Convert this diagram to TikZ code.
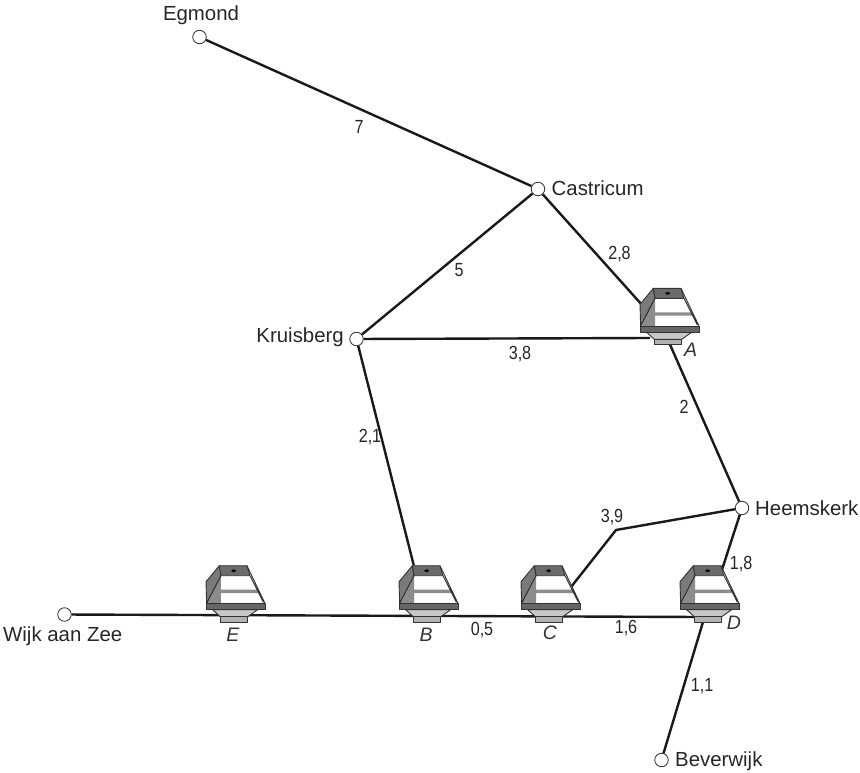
\documentclass[tikz,border=0pt]{standalone}
\usepackage{fontspec}
\setmainfont{Liberation Sans}
\tikzset{
  x=1pt,y=-1pt,
  town/.style={circle,draw=black!80,fill=white,line width=0.8pt,minimum size=13.5pt,inner sep=0pt},
  edge/.style={draw=black!90,line width=2.4pt,line join=miter},
  lab/.style={inner sep=0pt,font=\fontsize{20.4}{24}\selectfont,text=black!85},
  num/.style={inner sep=0pt,font=\fontsize{19}{22}\selectfont,text=black!85,xscale=.85},
  ilet/.style={inner sep=0pt,font=\fontsize{19.5}{22}\selectfont\itshape,text=black!80},
  icon/.pic={
    \begin{scope}[x=0.3333pt,y=-0.3333pt,line width=.9pt,draw=black!80,line join=round]
      \fill[white] (100,55)--(183,55)--(237,168)--(62,168)--(60,103)--cycle;
      \filldraw[fill=black!52] (100,55)--(60,103)--(62,168)--(105,85)--cycle;
      \fill[black!45] (105,85)--(105,168)--(65,168)--cycle;
      \fill[black!45] (105,127)--(217,127)--(222,137)--(105,137)--cycle;
      \filldraw[fill=black!58] (100,55)--(183,55)--(192,85)--(105,85)--cycle;
      \fill[black] (143,70) ellipse (7 and 4);
      \draw (183,55)--(237,168) (192,85)--(232,165) (62,168)--(105,85);
      \filldraw[fill=black!22] (80,187)--(215,187)--(185,208)--(103,208)--cycle;
      \filldraw[fill=black!30] (103,208)--(185,208)--(185,224)--(103,224)--cycle;
      \filldraw[fill=black!60] (62,168)--(237,168)--(237,187)--(62,187)--cycle;
    \end{scope}
  }
}
\begin{document}
\begin{tikzpicture}
\useasboundingbox (0,0) rectangle (860,773);
% towns
\node[town] (egmond) at (199.5,37) {};
\node[town] (castricum) at (538,189) {};
\node[town] (kruisberg) at (356.5,339) {};
\node[town] (heemskerk) at (742,508) {};
\node[town] (wijk) at (64.5,614.5) {};
\node[town] (beverwijk) at (661.5,760) {};
% connector ends behind the stations
\coordinate (Ain) at (660,325);
\coordinate (Aw) at (650,338);
\coordinate (As) at (668,340);
\coordinate (Bn) at (420,590);
\coordinate (Cn) at (560,601);
\coordinate (Dn) at (717,585);
\coordinate (Dw) at (700,617);
\coordinate (Ds) at (706,612);
\coordinate (bend) at (616,530);
\path[edge] (egmond)--(castricum);
\path[edge] (castricum)--(kruisberg);
\path[edge] (castricum)--(Ain);
\path[edge] (kruisberg)--(Aw);
\path[edge] (kruisberg)--(Bn);
\path[edge] (As)--(heemskerk);
\path[edge] (heemskerk)--(bend)--(Cn);
\path[edge] (heemskerk)--(Dn);
\path[edge] (wijk)--(Dw);
\path[edge] (Ds)--(beverwijk);
% stations
\pic at (620,270) {icon};
\pic at (379,547.4) {icon};
\pic at (501,547.4) {icon};
\pic at (660,547.4) {icon};
\pic at (186,547.4) {icon};
% labels
\node[lab] (tEgmond) at (201,15.5) {Egmond};
\node[lab,anchor=west] (tCastricum) at (551.5,188.5) {Castricum};
\node[lab,anchor=east] (tKruisberg) at (344,337.5) {Kruisberg};
\node[lab,anchor=west] (tHeemskerk) at (755,508) {Heemskerk};
\node[lab,anchor=west] (tWijk) at (3,636.5) {Wijk aan Zee};
\node[lab,anchor=west] (tBeverwijk) at (675,761) {Beverwijk};
\node[num] (n7) at (359,127) {7};
\node[num] (n5) at (459,270) {5};
\node[num] (n28) at (619.5,254) {2,8};
\node[num] (n38) at (520,354) {3,8};
\node[num] (n2) at (684,407) {2};
\node[num] (n21) at (370,437) {2,1};
\node[num] (n39) at (612,517) {3,9};
\node[num] (n18) at (741,564) {1,8};
\node[num] (n05) at (482,630) {0,5};
\node[num] (n16) at (626,628) {1,6};
\node[num] (n11) at (702,686) {1,1};
\node[ilet] (lA) at (690.5,350) {A};
\node[ilet] (lB) at (426,635) {B};
\node[ilet] (lC) at (550,633) {C};
\node[ilet] (lD) at (734,623) {D};
\node[ilet] (lE) at (233,635) {E};
\end{tikzpicture}
\end{document}
